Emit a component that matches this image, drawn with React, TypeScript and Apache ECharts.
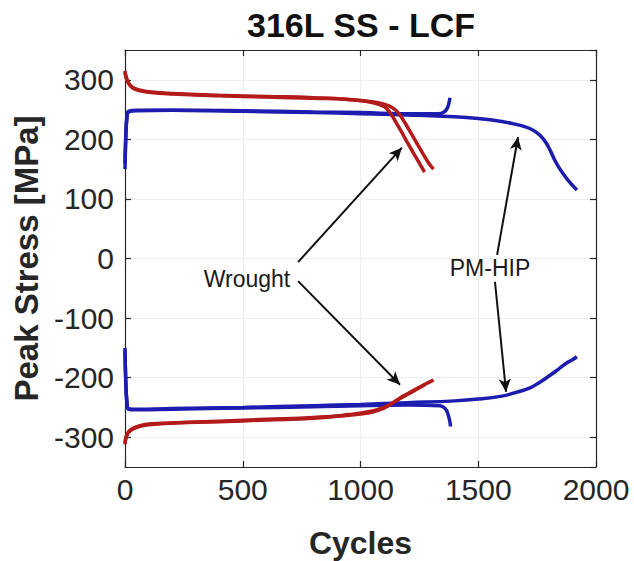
import React, { useEffect, useRef } from "react";
import * as echarts from "echarts";

// ---------- data ----------
const xTickStep = 500;
const xRange = [0, 2000];
const yRange = [-350, 350];

// Wrought, specimen A
const wroughtMaxACycles = [0, 5, 15, 30, 60, 100, 200, 400, 600, 800, 950, 1050, 1100, 1125, 1150, 1175, 1200, 1225, 1250, 1272];
const wroughtMaxAStress = [315, 305, 295, 288, 283, 280, 277, 274, 272, 270, 267, 262, 255, 245, 229, 212, 194, 177, 160, 145];
const wroughtMinACycles = [0, 5, 15, 30, 60, 100, 200, 400, 600, 800, 950, 1050, 1100, 1168, 1200, 1250, 1275];
const wroughtMinAStress = [-312, -300, -292, -287, -282, -279, -276, -274, -271, -268, -262, -256, -250, -235, -228, -217, -211];

// Wrought, specimen B
const wroughtMaxBCycles = [0, 5, 15, 30, 60, 100, 200, 400, 600, 800, 950, 1050, 1100, 1140, 1165, 1190, 1215, 1240, 1265, 1290, 1310];
const wroughtMaxBStress = [313, 303, 294, 287, 282, 279, 276, 273, 271, 269, 267, 263, 259, 252, 242, 227, 210, 193, 176, 160, 150];
const wroughtMinBCycles = [0, 5, 15, 30, 60, 100, 200, 400, 600, 800, 1000, 1100, 1168, 1200, 1250, 1290, 1310];
const wroughtMinBStress = [-310, -299, -291, -286, -281, -278, -276, -273, -270, -267, -261, -251, -234, -227, -216, -208, -204];

// PM-HIP, specimen 1 (short life)
const pmhipMax1Cycles = [0, 3, 8, 15, 50, 200, 500, 800, 1000, 1200, 1330, 1355, 1368, 1376, 1380];
const pmhipMax1Stress = [150, 195, 235, 246, 248, 249, 248, 246, 245, 243, 243, 246, 252, 262, 270];
const pmhipMin1Cycles = [0, 3, 8, 15, 50, 200, 500, 800, 1000, 1200, 1338, 1360, 1372, 1380, 1382];
const pmhipMin1Stress = [-150, -205, -242, -253, -254, -253, -251, -249, -247, -246, -247, -252, -262, -275, -282];

// PM-HIP, specimen 2 (long life)
const pmhipMax2Cycles = [0, 3, 8, 15, 50, 200, 500, 800, 1000, 1200, 1400, 1500, 1600, 1650, 1700, 1735, 1762, 1785, 1805, 1825, 1847, 1880, 1919];
const pmhipMax2Stress = [160, 205, 238, 247, 249, 249, 247, 245, 243, 241, 238, 235, 230, 226, 221, 215, 207, 196, 182, 165, 150, 132, 115];
const pmhipMin2Cycles = [0, 3, 8, 15, 50, 200, 500, 800, 1000, 1200, 1400, 1500, 1600, 1650, 1720, 1760, 1805, 1840, 1877, 1900, 1919];
const pmhipMin2Stress = [-155, -200, -240, -252, -253, -252, -250, -247, -245, -242, -239, -236, -231, -226, -217, -208, -196, -186, -175, -170, -165];

// annotations (data coordinates)
const annotationLabels = ["Wrought", "PM-HIP"];
const annotationAnchors = [[518, -34], [1550, -16]];
const arrowStarts = [[735, -6], [735, -38], [1580, 6], [1571, -39]];
const arrowEnds = [[1176, 186], [1168, -212], [1669, 204], [1618, -224]];

const titleText = "316L SS - LCF";
const xName = "Cycles";
const yName = "Peak Stress [MPa]";

// ---------- styling ----------
const RED = "#b31b1b";
const BLUE = "#1c1cae";
const INK = "#262626";
const FONT = '"Liberation Sans", Arial, Helvetica, sans-serif';

const pair = (c: number[], s: number[]) => c.map((v, i) => [v, s[i]]);

const lineSeries = (name: string, c: number[], s: number[], color: string) => ({
  name,
  type: "line",
  data: pair(c, s),
  showSymbol: false,
  symbol: "none",
  smooth: 0.45,
  lineStyle: { color, width: 3.5 },
  itemStyle: { color },
  silent: true,
  xAxisIndex: 0,
  yAxisIndex: 0,
});

export default function App() {
  const ref = useRef<HTMLDivElement>(null);

  useEffect(() => {
    if (!ref.current) return;
    const chart = echarts.init(ref.current, null, { renderer: "svg" });

    const baseAxisLine = { show: true, onZero: false, lineStyle: { color: INK, width: 1.2 } };
    const plain = (v: number) => String(v);

    const option: any = {
      animation: false,
      backgroundColor: "#ffffff",
      textStyle: { fontFamily: FONT },
      grid: { left: 125, right: 38, top: 50, bottom: 94, containLabel: false, outerBoundsMode: "none" },
      graphic: [
        {
          type: "text",
          x: 361,
          y: 25,
          style: {
            text: titleText,
            fill: "#111111",
            font: `bold 34px ${FONT}`,
            align: "center",
            verticalAlign: "middle",
          },
        },
      ],
      xAxis: [
        {
          type: "value",
          min: xRange[0],
          max: xRange[1],
          interval: xTickStep,
          position: "bottom",
          axisLine: baseAxisLine,
          axisTick: { show: true, inside: true, length: 6, lineStyle: { color: INK, width: 1.2 } },
          axisLabel: { fontSize: 30, color: INK, margin: 7, fontFamily: FONT, formatter: plain },
          splitLine: { show: true, lineStyle: { color: "#eeeeee", width: 1 } },
          name: xName,
          nameLocation: "middle",
          nameGap: 60,
          nameTextStyle: { fontSize: 32, fontWeight: "bold", color: INK, fontFamily: FONT },
        },
        {
          type: "value",
          min: xRange[0],
          max: xRange[1],
          interval: xTickStep,
          position: "top",
          axisLine: baseAxisLine,
          axisTick: { show: true, inside: true, length: 6, lineStyle: { color: INK, width: 1.2 } },
          axisLabel: { show: false },
          splitLine: { show: false },
        },
      ],
      yAxis: [
        {
          type: "value",
          min: yRange[0],
          max: yRange[1],
          splitNumber: 7,
          position: "left",
          axisLine: baseAxisLine,
          axisTick: { show: true, inside: true, length: 6, lineStyle: { color: INK, width: 1.2 } },
          axisLabel: {
            fontSize: 30,
            color: INK,
            margin: 11,
            fontFamily: FONT,
            showMinLabel: false,
            showMaxLabel: false,
            formatter: plain,
          },
          splitLine: { show: true, lineStyle: { color: "#eeeeee", width: 1 } },
          name: yName,
          nameLocation: "middle",
          nameGap: 79,
          nameRotate: 90,
          nameTextStyle: { fontSize: 33, fontWeight: "bold", color: INK, fontFamily: FONT },
        },
        {
          type: "value",
          min: yRange[0],
          max: yRange[1],
          splitNumber: 7,
          position: "right",
          axisLine: baseAxisLine,
          axisTick: { show: true, inside: true, length: 6, lineStyle: { color: INK, width: 1.2 } },
          axisLabel: { show: false },
          splitLine: { show: false },
        },
      ],
      series: [
        lineSeries("PM-HIP max 1", pmhipMax1Cycles, pmhipMax1Stress, BLUE),
        lineSeries("PM-HIP min 1", pmhipMin1Cycles, pmhipMin1Stress, BLUE),
        lineSeries("PM-HIP max 2", pmhipMax2Cycles, pmhipMax2Stress, BLUE),
        lineSeries("PM-HIP min 2", pmhipMin2Cycles, pmhipMin2Stress, BLUE),
        lineSeries("Wrought max A", wroughtMaxACycles, wroughtMaxAStress, RED),
        lineSeries("Wrought min A", wroughtMinACycles, wroughtMinAStress, RED),
        lineSeries("Wrought max B", wroughtMaxBCycles, wroughtMaxBStress, RED),
        lineSeries("Wrought min B", wroughtMinBCycles, wroughtMinBStress, RED),
        {
          name: "annotations",
          type: "line",
          data: [],
          xAxisIndex: 0,
          yAxisIndex: 0,
          silent: true,
          markLine: {
            silent: true,
            animation: false,
            symbol: ["none", "arrow"],
            symbolSize: [9, 13],
            label: { show: false },
            emphasis: { disabled: true },
            lineStyle: { color: "#111111", width: 2, type: "solid" },
            data: arrowStarts.map((s, i) => [{ coord: s }, { coord: arrowEnds[i] }]),
          },
          markPoint: {
            silent: true,
            animation: false,
            symbol: "circle",
            symbolSize: 0,
            itemStyle: { color: "transparent" },
            label: {
              show: true,
              position: "inside",
              formatter: "{b}",
              fontSize: 23,
              color: "#1a1a1a",
              fontFamily: FONT,
            },
            data: annotationLabels.map((n, i) => ({ name: n, coord: annotationAnchors[i] })),
          },
        },
      ],
    };

    chart.setOption(option);
    return () => chart.dispose();
  }, []);

  return (
    <div
      ref={ref}
      style={{ position: "fixed", left: 0, top: 0, width: 634, height: 561, background: "#ffffff" }}
    />
  );
}
